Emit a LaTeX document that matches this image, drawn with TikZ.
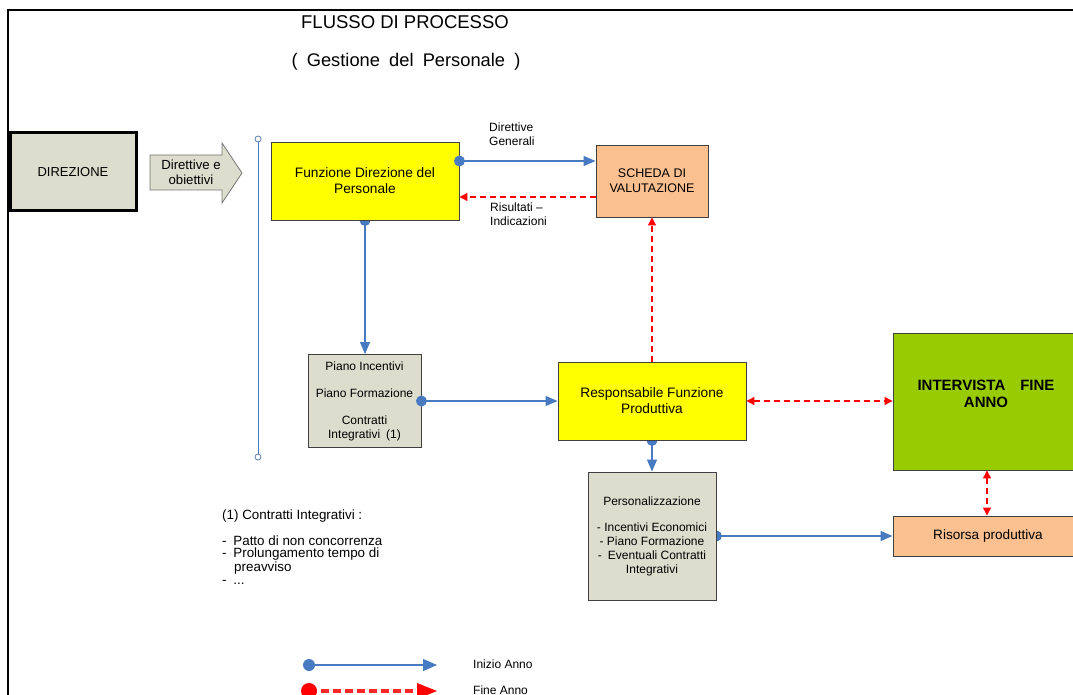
\documentclass[tikz,border=0pt]{standalone}
\usepackage{fontspec}
\setmainfont{Liberation Sans}
\usetikzlibrary{arrows.meta,calc,backgrounds}
\definecolor{mygray}{RGB}{221,221,206}
\definecolor{mypeach}{RGB}{250,192,144}
\definecolor{mygreen}{RGB}{153,204,0}
\definecolor{myyellow}{RGB}{255,255,0}
\definecolor{myblue}{RGB}{72,122,194}
\definecolor{myred}{RGB}{255,0,0}
\newcommand\bxfont{\fontsize{12}{14}\selectfont}
\newcommand\bigbxfont{\fontsize{13.7}{16}\selectfont}
\begin{document}
\begin{tikzpicture}[x=1pt,y=-1pt,
  box/.style={draw=black!75, line width=0.9pt, inner sep=0pt, align=center, font=\bxfont},
  graybox/.style={box, fill=mygray},
  yellowbox/.style={box, fill=myyellow, font=\bigbxfont},
  peachbox/.style={box, fill=mypeach},
  txt/.style={inner sep=0pt, font=\bxfont, align=left},
  barrow/.style={draw=myblue, line width=1.2pt, -{Triangle[length=12pt,width=10pt]}},
  rarrow/.style={draw=myred, line width=1.2pt, dash pattern=on 6pt off 4pt, -{Triangle[length=8pt,width=8pt]}},
  rdouble/.style={draw=myred, line width=1.2pt, dash pattern=on 6pt off 4pt, {Triangle[length=8pt,width=8pt]}-{Triangle[length=8pt,width=8pt]}},
  bdot/.style={fill=myblue}
]
\useasboundingbox (0,0) rectangle (1073,695);
\begin{scope}
\clip (0,0) rectangle (1073,695);
% frame
\draw[line width=2.5pt] (8,695) -- (8,10) -- (1080,10);
% titles
\node[inner sep=0pt, font=\fontsize{18.5}{22}\selectfont] (title) at (405,22) {FLUSSO DI PROCESSO};
\node[inner sep=0pt, font=\fontsize{18.3}{22}\selectfont] (subtitle) at (406,62) {(\enspace Gestione\enspace del\enspace Personale\enspace )};
% direzione
\node[box, fill=mygray, draw=black, line width=3pt, minimum width=126pt, minimum height=78pt, font=\fontsize{13}{15}\selectfont] (dir) at (73,172) {DIREZIONE};
% big arrow
\draw[fill=mygray, draw=black!55, line width=0.8pt] (150,155) -- (222,155) -- (222,143) -- (242,173) -- (222,203) -- (222,190) -- (150,190) -- cycle;
\node[txt, align=center, font=\fontsize{13.2}{15}\selectfont] (dirarrow) at (191,172) {Direttive e\\obiettivi};
% vertical line
\coordinate (vtop) at (258,139);
\coordinate (vbot) at (258,457);
\draw[myblue, line width=0.8pt] (vtop) -- (vbot);
\draw[myblue!70!gray, line width=0.8pt, fill=white] (vtop) circle (3pt) (vbot) circle (3pt);
% boxes
\node[yellowbox, minimum width=188pt, minimum height=78pt] (fdp) at (365,181) {Funzione Direzione del\\Personale};
\node[peachbox, minimum width=112pt, minimum height=72pt, font=\fontsize{12.5}{15}\selectfont] (scheda) at (652,181) {SCHEDA DI\\VALUTAZIONE};
\node[graybox, minimum width=113pt, minimum height=93pt] (piano) at (364.5,401) {Piano Incentivi\\[13pt]Piano Formazione\\[13pt]Contratti\\Integrativi\enspace(1)};
\node[yellowbox, minimum width=188pt, minimum height=78pt] (resp) at (652,401) {Responsabile Funzione\\Produttiva};
\node[box, fill=mygreen, minimum width=190pt, minimum height=137pt] (interv) at (988,401.5) {};
\node[inner sep=0pt, align=center, font=\fontsize{15}{17}\bfseries\selectfont] (intervT) at (986,393.5) {INTERVISTA\enspace\enspace FINE\\ANNO};
\node[peachbox, minimum width=190pt, minimum height=40pt, font=\fontsize{13.6}{16}\selectfont] (ris) at (988,536) {Risorsa produttiva};
\node[graybox, minimum width=128pt, minimum height=128pt] (pers) at (652,536) {Personalizzazione\\[12pt]- Incentivi Economici\\- Piano Formazione\\-\enspace Eventuali Contratti\\Integrativi};
% dots partly hidden behind boxes
\begin{pgfonlayer}{background}
\fill[bdot] (fdp.south) circle (5.5pt);
\fill[bdot] (resp.south) circle (5.5pt);
\fill[bdot] (pers.east) circle (5.5pt);
\end{pgfonlayer}
% connectors
\draw[barrow] ([yshift=20pt]fdp.east) -- ([yshift=20pt]fdp.east -| scheda.west);
\fill[bdot] ([yshift=20pt]fdp.east) circle (5.5pt);
\draw[rarrow] ([yshift=-16pt]scheda.west) -- ([yshift=-16pt]scheda.west -| fdp.east);
\draw[barrow] ([yshift=-5pt]fdp.south) -- (fdp.south |- piano.north);
\draw[barrow] (piano.east) -- (piano.east -| resp.west);
\fill[bdot] (piano.east) circle (5.5pt);
\draw[rarrow] (resp.north) -- (scheda.south);
\draw[rdouble] (resp.east) -- (resp.east -| interv.west);
\draw[rdouble] ([xshift=-1pt]interv.south) -- ([xshift=-1pt]ris.north);
\draw[barrow] ([yshift=-5pt]resp.south) -- (pers.north);
\draw[barrow] ([xshift=5pt]pers.east) -- (pers.east -| ris.west);
% labels
\node[txt, anchor=west] (lblDG) at (489,134) {Direttive\\Generali};
\node[txt, anchor=west] (lblRI) at (490,214) {Risultati --\\Indicazioni};
% footnote
\begin{scope}[every node/.style={txt, anchor=west, font=\fontsize{13.4}{15}\selectfont}]
\node (fn1) at (222,516) {(1) Contratti Integrativi :};
\node (fn2) at (222,541) {-\enspace Patto di non concorrenza};
\node (fn3) at (222,554.5) {-\enspace Prolungamento tempo di};
\node (fn4) at (234,568) {preavviso};
\node (fn5) at (222,582) {-\enspace ...};
\end{scope}
% legend
\coordinate (l1a) at (309,665);
\coordinate (l1b) at (437,665);
\draw[myblue, line width=1.2pt, -{Triangle[length=14pt,width=12pt]}] (l1a) -- (l1b);
\fill[bdot] (l1a) circle (6pt);
\node[txt, anchor=west] (leg1) at (473,664) {Inizio Anno};
\coordinate (l2a) at (309,691);
\coordinate (l2b) at (437,691);
\draw[myred!85!white, line width=4pt, dash pattern=on 8pt off 4pt] (l2a) -- ([xshift=-16pt]l2b);
\fill[myred] ([xshift=-20pt,yshift=8pt]l2b) -- (l2b) -- ([xshift=-20pt,yshift=-8pt]l2b) -- cycle;
\fill[myred] (l2a) circle (8pt);
\node[txt, anchor=west] (leg2) at (473,690) {Fine Anno};
\end{scope}
\end{tikzpicture}
\end{document}
